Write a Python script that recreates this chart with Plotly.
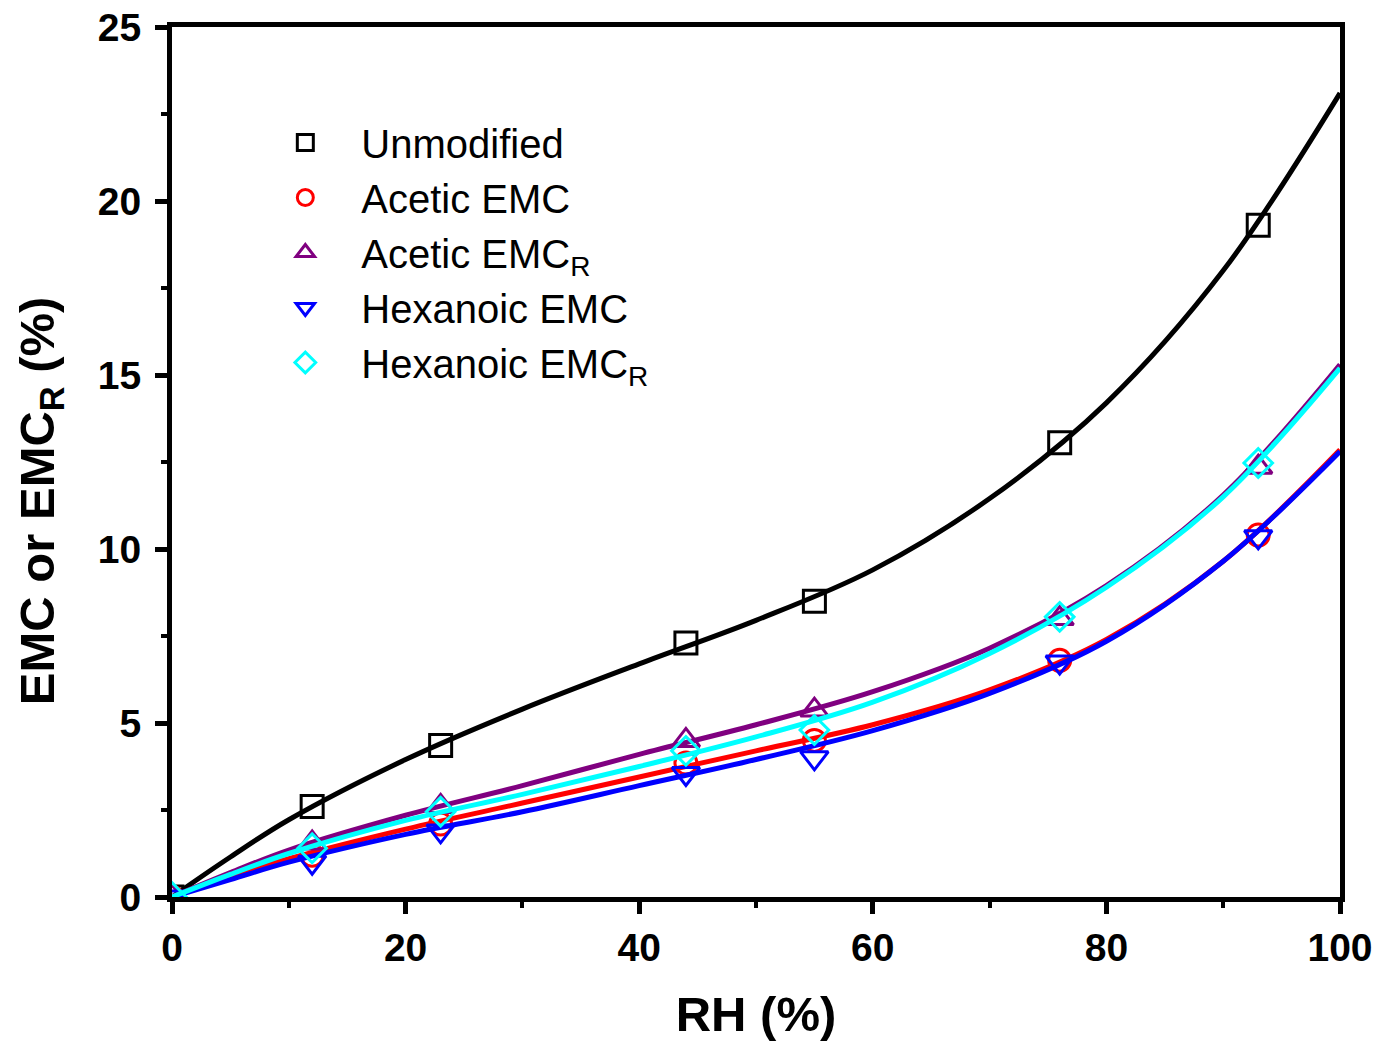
import plotly.graph_objects as go

# Measured equilibrium moisture content (%) at each relative humidity (%)
rh = [0, 12, 23, 44, 55, 76, 93]
unmodified = [0, 2.6, 4.35, 7.3, 8.5, 13.05, 19.3]
acetic_emc = [0, 1.2, 2.1, 3.85, 4.5, 6.8, 10.4]
acetic_emc_r = [0, 1.55, 2.6, 4.5, 5.37, 8.0, 12.35]
hexanoic_emc = [0, 1.0, 1.9, 3.55, 4.0, 6.75, 10.35]
hexanoic_emc_r = [0, 1.4, 2.45, 4.2, 4.8, 8.05, 12.47]

# Sorption isotherm fit curves, sampled along RH
rh_fit = [0, 5, 10, 20, 30, 40, 50, 60, 70, 80, 90, 100]
fit_unmodified = [0, 1.15, 2.22, 3.95, 5.4, 6.7, 7.95, 9.4, 11.45, 14.2, 18.0, 23.1]
fit_acetic_emc = [0, 0.6, 1.1, 1.95, 2.7, 3.45, 4.2, 4.95, 5.95, 7.4, 9.65, 12.85]
fit_acetic_emc_r = [0, 0.7, 1.35, 2.35, 3.2, 4.1, 4.95, 5.9, 7.15, 8.95, 11.55, 15.3]
fit_hexanoic_emc = [0, 0.5, 1.0, 1.8, 2.45, 3.2, 3.95, 4.78, 5.85, 7.35, 9.65, 12.8]
fit_hexanoic_emc_r = [0, 0.65, 1.25, 2.2, 2.95, 3.75, 4.6, 5.6, 7.0, 8.9, 11.5, 15.2]

series = [
    ("Unmodified", unmodified, fit_unmodified, "black", "square-open", 22),
    ("Acetic EMC", acetic_emc, fit_acetic_emc, "#ff0000", "circle-open", 22),
    ("Acetic EMC<sub>R</sub>", acetic_emc_r, fit_acetic_emc_r, "#800080", "triangle-up-open", 24),
    ("Hexanoic EMC", hexanoic_emc, fit_hexanoic_emc, "#0000ff", "triangle-down-open", 24),
    ("Hexanoic EMC<sub>R</sub>", hexanoic_emc_r, fit_hexanoic_emc_r, "#00ffff", "diamond-open", 22),
]

fig = go.Figure()
for name, vals, fit, color, symbol, size in series:
    fig.add_trace(go.Scatter(
        x=rh, y=vals, mode="markers", name=name,
        marker=dict(symbol=symbol, size=size, color=color, line=dict(width=3, color=color)),
    ))
    fig.add_trace(go.Scatter(
        x=rh_fit, y=fit, mode="lines", showlegend=False,
        line=dict(color=color, width=5, shape="spline", smoothing=1.0),
    ))

family = "Liberation Sans, Arial, sans-serif"
bold = dict(family=family, size=39, color="black", weight="bold")
title_font = dict(family=family, size=49, color="black", weight="bold")

fig.update_layout(
    width=1384, height=1054,
    margin=dict(l=172, r=44, t=27, b=157, autoexpand=False),
    paper_bgcolor="white", plot_bgcolor="white",
    showlegend=True,
    legend=dict(
        x=0.0662, y=0.9046, xanchor="left", yanchor="top",
        bgcolor="rgba(0,0,0,0)", borderwidth=0,
        font=dict(family=family, size=40, color="black"),
        itemsizing="trace", itemwidth=102,
    ),
    xaxis=dict(
        range=[0, 100], tickvals=[0, 20, 40, 60, 80, 100],
        ticks="outside", ticklen=12, tickwidth=5, tickcolor="black",
        minor=dict(tickvals=[10, 30, 50, 70, 90], ticks="outside", ticklen=6, tickwidth=4, tickcolor="black"),
        showline=True, linewidth=5, linecolor="black", mirror=True,
        showgrid=False, zeroline=False, automargin=False,
        tickfont=bold, ticklabelstandoff=0,
        title=dict(text="RH (%)", font=title_font, standoff=30),
    ),
    yaxis=dict(
        range=[0, 25], tickvals=[0, 5, 10, 15, 20, 25],
        ticks="outside", ticklen=12, tickwidth=5, tickcolor="black",
        minor=dict(tickvals=[2.5, 7.5, 12.5, 17.5, 22.5], ticks="outside", ticklen=6, tickwidth=4, tickcolor="black"),
        showline=True, linewidth=5, linecolor="black", mirror=True,
        showgrid=False, zeroline=False, automargin=False,
        tickfont=bold, ticklabelstandoff=6,
    ),
    # inward ticks on the top and right edges of the frame
    xaxis2=dict(
        range=[0, 100], overlaying="x", side="top", anchor="y",
        tickvals=[0, 20, 40, 60, 80, 100], ticks="inside", ticklen=12, tickwidth=5, tickcolor="black",
        minor=dict(tickvals=[10, 30, 50, 70, 90], ticks="inside", ticklen=6, tickwidth=4, tickcolor="black"),
        showticklabels=False, showgrid=False, zeroline=False, showline=False, automargin=False,
    ),
    yaxis2=dict(
        range=[0, 25], overlaying="y", side="right", anchor="x",
        tickvals=[0, 5, 10, 15, 20, 25], ticks="inside", ticklen=12, tickwidth=5, tickcolor="black",
        minor=dict(tickvals=[2.5, 7.5, 12.5, 17.5, 22.5], ticks="inside", ticklen=6, tickwidth=4, tickcolor="black"),
        showticklabels=False, showgrid=False, zeroline=False, showline=False, automargin=False,
    ),
    annotations=[dict(
        text="EMC or EMC<sub>R</sub> (%)", textangle=-90,
        xref="paper", yref="paper", x=-0.113, y=0.455,
        xanchor="center", yanchor="middle", showarrow=False,
        font=title_font,
    )],
)

fig.write_html("out.html")
